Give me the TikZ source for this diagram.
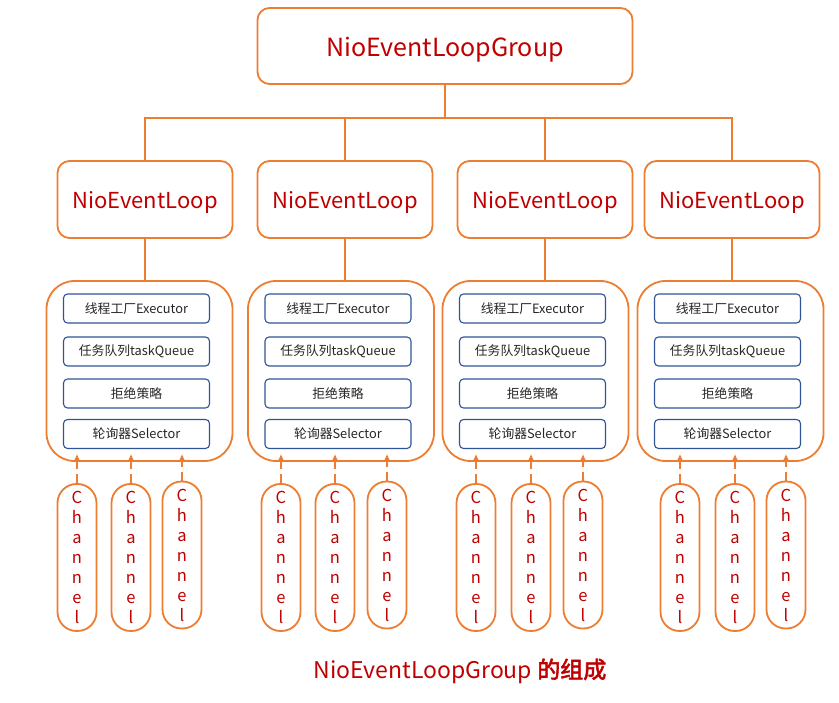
\documentclass[tikz,border=0pt]{standalone}
\usepackage{fontspec}
\setmainfont{Noto Sans CJK SC}[AutoFakeBold=2.5]
\usepackage{tikz}
\usetikzlibrary{positioning}
\usetikzlibrary{arrows.meta}

\definecolor{orangeline}{RGB}{237,125,49}
\definecolor{redtext}{RGB}{192,0,0}
\definecolor{blueline}{RGB}{47,85,151}

\tikzset{
  groupbox/.style={draw=orangeline, line width=1.8pt, rounded corners=12pt, fill=white,
    minimum width=375pt, minimum height=76pt, text=redtext, font=\fontsize{25}{28}\selectfont,
    text height=21pt, text depth=0pt},
  loopbox/.style={draw=orangeline, line width=1.8pt, rounded corners=12pt, fill=white,
    minimum width=175pt, minimum height=77pt, text=redtext, font=\fontsize{22}{26}\selectfont,
    text height=19pt, text depth=0pt},
  holder/.style={draw=orangeline, line width=1.8pt, rounded corners=28pt,
    minimum width=186pt, minimum height=180pt},
  partbox/.style={draw=blueline, line width=1.1pt, rounded corners=4pt, fill=white,
    minimum width=146pt, minimum height=29pt, text=black!85, font=\fontsize{12.8}{15}\selectfont},
  chanbox/.style={draw=orangeline, line width=1.8pt, rounded corners=19pt,
    minimum width=39pt, minimum height=147pt, text=redtext, align=center,
    inner sep=0pt, font=\fontsize{16.5}{20}\selectfont},
  link/.style={draw=orangeline, line width=1.8pt},
  feed/.style={draw=orangeline, line width=1.8pt, dash pattern=on 9pt off 5pt,
    -{Latex[length=8pt,width=8pt]}}
}

\begin{document}
\begin{tikzpicture}[x=1pt,y=-1pt]
    \useasboundingbox (0,0) rectangle (839,703);

    % 顶部的 NioEventLoopGroup
    \node[groupbox] (grp) at (445,46) {NioEventLoopGroup};
    \coordinate (bus) at (445,118);
    \draw[link] (grp.south) -- (bus);

    % 四个 NioEventLoop 及其内部结构
    \foreach \i/\lx/\bx/\ca/\cb/\cc in {1/145/139.5/77/131/182, 2/345/341/281/335/387,
                                        3/545/535.5/476/531/583, 4/732/730.5/680/735/786} {
        \node[loopbox] (loop\i) at (\lx,199.5) {NioEventLoop};
        \draw[link] (loop\i.north) |- (bus);

        \node[holder] (box\i) at (\bx,371) {};
        \draw[link] (loop\i.south) -- (loop\i.south |- box\i.north);

        \node[partbox] (exe\i) at (\bx-3,308.5) {线程工厂Executor};
        \node[partbox] (que\i) at (\bx-3,351.5) {任务队列taskQueue};
        \node[partbox] (rej\i) at (\bx-3,393.5) {拒绝策略};
        \node[partbox] (sel\i) at (\bx-3,434) {轮询器Selector};

        % 每个 NioEventLoop 下的三个 Channel
        \foreach \j/\cx/\cy in {a/\ca/557.5, b/\cb/557.5, c/\cc/555} {
            \node[chanbox] (ch\i\j) at (\cx,\cy) {C\\h\\a\\n\\n\\e\\l};
            \draw[feed, shorten >=-8pt] (ch\i\j.north) -- (ch\i\j.north |- box\i.south);
        }
    }

    % 标题
    \node[text=redtext, font=\fontsize{23}{26}\selectfont] (title) at (460,671)
        {NioEventLoopGroup {\bfseries 的组成}};
\end{tikzpicture}
\end{document}
